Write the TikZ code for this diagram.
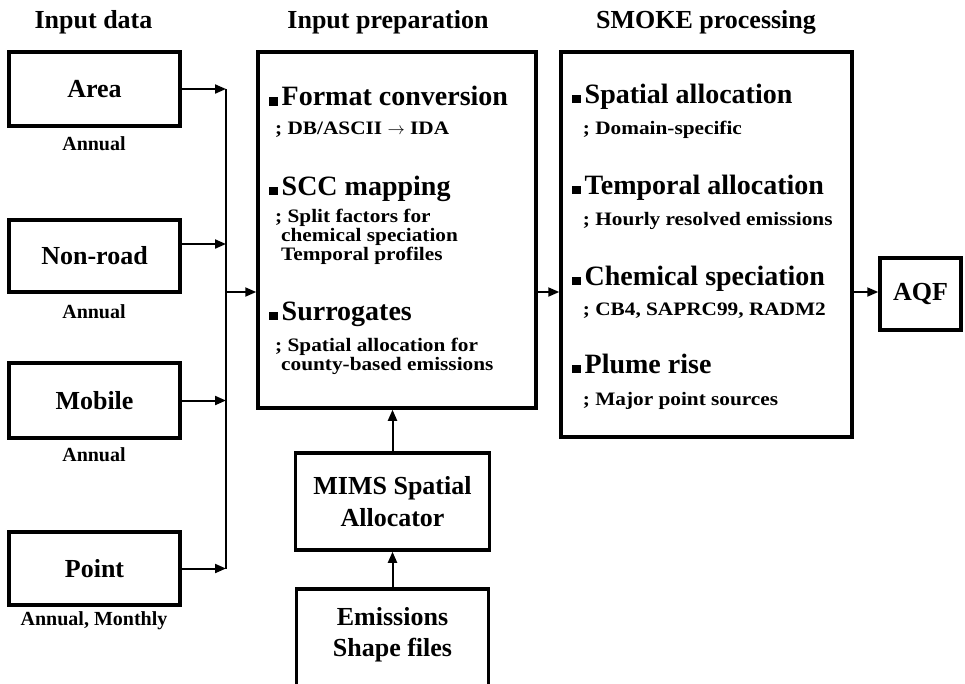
\documentclass[tikz,border=0pt]{standalone}
\usepackage{fontspec}
\setmainfont{Liberation Serif}
\newfontfamily\subfont[FakeStretch=1.12]{Liberation Serif}
\usetikzlibrary{arrows.meta,calc}
\begin{document}
\begin{tikzpicture}[x=1pt,y=-1pt,
  box/.style={draw,line width=3.5pt,inner sep=0pt,align=center,font=\bfseries\fontsize{26}{32}\selectfont},
  bigbox/.style={draw,line width=3.5pt,inner sep=0pt},
  conn/.style={line width=2pt,-{Triangle[length=11pt,width=9pt]}},
  bus/.style={line width=2pt},
  head/.style={anchor=base,inner sep=0pt,font=\bfseries\fontsize{26}{30}\selectfont},
  capt/.style={anchor=base,inner sep=0pt,font=\bfseries\fontsize{20}{24}\selectfont},
  ttl/.style={anchor=base west,inner sep=0pt,font=\bfseries\fontsize{28}{32}\selectfont},
  subt/.style={anchor=base west,inner sep=0pt,text height=13.5pt,text depth=4pt,font=\subfont\bfseries\fontsize{19}{22}\selectfont}]
\newcommand{\sqb}{\rule{8.5pt}{8.5pt}\hspace{4pt}}
\useasboundingbox (0,0) rectangle (965,683);
\fill[white] (0,0) rectangle (965,683);
% headings
\node[head] (h1) at (93.5,28) {Input data};
\node[head] (h2) at (388,28) {Input preparation};
\node[head] (h3) at (706,28) {SMOKE processing};
% input boxes
\node[box,minimum width=171,minimum height=74] (area) at (94.5,89) {Area};
\node[box,minimum width=171,minimum height=72] (nonroad) at (94.5,256) {Non-road};
\node[box,minimum width=171,minimum height=75] (mobile) at (94.5,400.5) {Mobile};
\node[box,minimum width=171,minimum height=73] (point) at (94.5,568.5) {Point};
\node[capt] (c1) at (94,150) {Annual};
\node[capt] (c2) at (94,318) {Annual};
\node[capt] (c3) at (94,461.5) {Annual};
\node[capt] (c4) at (94,625) {Annual, Monthly};
% bus
\coordinate (btop) at (226,89);
\coordinate (bbot) at (226,569);
\coordinate (bmid) at (226,292);
\draw[bus] (btop) -- (bbot);
\draw[conn] (area.east) -- (area.east -| btop);
\draw[conn] ([yshift=12pt]nonroad.east) -- ([yshift=12pt]nonroad.east -| btop);
\draw[conn] (mobile.east) -- (mobile.east -| btop);
\draw[conn] (point.east) -- (point.east -| btop);
% preparation box
\node[bigbox,minimum width=278,minimum height=356] (prep) at (397,230) {};
\draw[conn] (bmid) -- (bmid -| prep.west);
\node[ttl] (p1) at (269,105.7) {\sqb Format conversion};
\node[subt] (p1a) at (275,134.3) {; DB/ASCII $\rightarrow$ IDA};
\node[ttl] (p2) at (269,195) {\sqb SCC mapping};
\node[subt] (p2a) at (275,222.7) {; Split factors for};
\node[subt] (p2b) at (281,241.7) {chemical speciation};
\node[subt] (p2c) at (281,260) {Temporal profiles};
\node[ttl] (p3) at (269,320) {\sqb Surrogates};
\node[subt] (p3a) at (275,351.7) {; Spatial allocation for};
\node[subt] (p3b) at (281,370) {county-based emissions};
% SMOKE box
\node[bigbox,minimum width=291,minimum height=385] (smoke) at (706.5,244.5) {};
\coordinate (pm) at (536,292);
\draw[conn] (pm) -- (pm -| smoke.west);
\node[ttl] (s1) at (572,103.3) {\sqb Spatial allocation};
\node[subt] (s1a) at (582.7,134) {; Domain-specific};
\node[ttl] (s2) at (572,194) {\sqb Temporal allocation};
\node[subt] (s2a) at (582.7,225) {; Hourly resolved emissions};
\node[ttl] (s3) at (572,285) {\sqb Chemical speciation};
\node[subt] (s3a) at (582.7,315) {; CB4, SAPRC99, RADM2};
\node[ttl] (s4) at (572,373.3) {\sqb Plume rise};
\node[subt] (s4a) at (582.7,405) {; Major point sources};
% AQF
\node[box,minimum width=81,minimum height=72] (aqf) at (920.5,294) {AQF};
\coordinate (sm) at (852,292);
\draw[conn] (sm) -- (sm -| aqf.west);
% lower boxes
\node[box,minimum width=194,minimum height=97] (mims) at (392.5,501.5) {MIMS Spatial\\Allocator};
\node[box,minimum width=192,minimum height=102] (emis) at (392.5,640) {};
\node[anchor=base,inner sep=0pt,align=center,font=\bfseries\fontsize{26}{31}\selectfont] (emt) at (392.5,656) {Emissions\\Shape files};
\draw[conn] (emis.north) -- (mims.south);
\draw[conn] (mims.north) -- (mims.north |- prep.south);
\end{tikzpicture}
\end{document}
